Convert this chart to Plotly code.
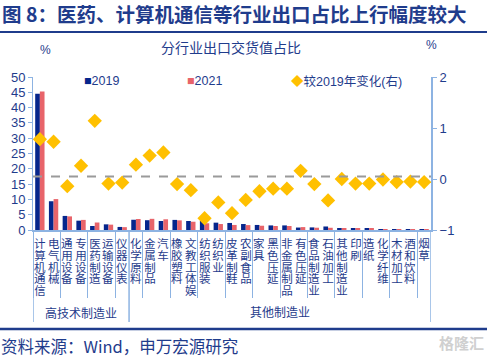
import plotly.graph_objects as go

categories = ["计算机通信", "电气机械", "通用设备", "专用设备", "医药制造", "运输设备", "仪器仪表",
              "化学原料", "金属制品", "汽车", "橡胶塑料", "文教工体娱", "纺织服装", "纺织业", "皮革制鞋",
              "农副食品", "家具", "黑色压延", "非金属制品", "有色压延", "食品制造业", "石油加工",
              "其他制造业", "印刷", "造纸", "化学纤维", "木材加工", "酒和饮料", "烟草"]
share_2019 = [44.5, 9.4, 4.6, 3.05, 1.3, 1.85, 1.0, 3.35, 3.2, 2.95, 3.3, 2.95, 2.95, 2.4, 2.3,
              1.95, 1.65, 1.5, 1.5, 0.8, 0.85, 1.15, 0.45, 0.5, 0.55, 0.3, 0.25, 0.12, 0.1]
share_2021 = [45.3, 10.1, 4.45, 3.3, 2.45, 1.75, 0.93, 3.6, 3.65, 3.5, 3.15, 2.7, 2.2, 1.95, 1.65,
              1.6, 1.4, 1.3, 1.3, 0.95, 0.75, 0.73, 0.45, 0.4, 0.45, 0.3, 0.2, 0.08, 0.04]
change = [0.78, 0.73, -0.14, 0.26, 1.14, -0.09, -0.07, 0.28, 0.46, 0.52, -0.10, -0.22, -0.77, -0.46,
          -0.67, -0.41, -0.24, -0.19, -0.19, 0.16, -0.10, -0.42, 0.0, -0.09, -0.09, -0.01, -0.06,
          -0.05, -0.06]
groups = [("高技术制造业", 0, 6), ("其他制造业", 7, 28)]

NAVY = "#06268C"
RED = "#E8646A"
GOLD = "#FFC000"
AXIS = "#8DB3E2"
TXT = "#1F3C8C"
FONT = "Liberation Sans, Noto Sans CJK SC, sans-serif"
CJK = "Noto Sans CJK SC, sans-serif"

W, H = 493, 359
L, R, T, B = 33, 62, 77, 129
PW, PH = W - L - R, H - T - B


def px(x):
    return (x - L) / PW


def py(y):
    return (H - B - y) / PH


fig = go.Figure()
fig.add_bar(x=categories, y=share_2019, name="2019", marker_color=NAVY, marker_line_width=0)
fig.add_bar(x=categories, y=share_2021, name="2021", marker_color=RED, marker_line_width=0)
fig.add_scatter(x=categories, y=change, name="较2019年变化(右)", yaxis="y2", mode="markers",
                marker=dict(symbol="diamond", size=11, color=GOLD))

fig.update_layout(
    width=W, height=H,
    margin=dict(l=L, r=R, t=T, b=B, autoexpand=False),
    paper_bgcolor="white", plot_bgcolor="white",
    barmode="group", bargap=0.32, bargroupgap=0,
    showlegend=False,
    font=dict(family=FONT, color=TXT, size=12),
    xaxis=dict(type="category", showticklabels=False, ticks="outside", tickson="boundaries",
               ticklen=66, tickcolor=AXIS, tickwidth=1, showline=True, linecolor=AXIS,
               linewidth=2, showgrid=False, zeroline=False, range=[-0.5, 28.5]),
    yaxis=dict(range=[0, 50], dtick=5, showgrid=False, zeroline=False, showline=True,
               linecolor=AXIS, linewidth=1, ticks="outside", ticklen=4, tickcolor=AXIS,
               tickfont=dict(size=13, color=TXT)),
    yaxis2=dict(range=[-1, 2], dtick=1, overlaying="y", side="right", showgrid=False,
                zeroline=False, showline=True, linecolor=AXIS, linewidth=2, ticks="outside",
                ticklen=4, tickcolor=AXIS, tickfont=dict(size=13, color=TXT)),
)

# dashed reference line near right-axis zero
fig.add_shape(type="line", xref="paper", x0=0, x1=1, yref="y2", y0=0.05, y1=0.05,
              line=dict(color="#9A9A9A", width=2, dash="dash"))

# long group separator lines
for xv in [-0.5, 6.5, 28.5]:
    fig.add_shape(type="line", xref="x", x0=xv, x1=xv, yref="paper", ysizemode="pixel",
                  yanchor=0, y0=0, y1=-92, line=dict(color=AXIS, width=1.5))

# vertical category labels, one character per line
PITCH = 11.8
for cat in categories:
    for i, ch in enumerate(cat):
        fig.add_annotation(x=cat, xref="x", y=0, yref="paper", yanchor="top",
                           yshift=-(7 + i * PITCH), text=ch, showarrow=False,
                           height=PITCH - 0.3, width=12, borderpad=0,
                           font=dict(size=11.5, color=TXT, family=FONT))

# group labels
for name, a, b in groups:
    fig.add_annotation(x=(a + b) / 2, xref="x", y=py(313), yref="paper", yanchor="middle",
                       text=name, showarrow=False, font=dict(size=12, color=TXT))

# legend as annotations
leg = [(82, "■", NAVY, "2019"), (185, "■", RED, "2021"), (289, "◆", GOLD, "较2019年变化(右)")]
for lx, sym, col, lab in leg:
    fig.add_annotation(x=px(lx), xref="paper", y=py(81), yref="paper", xanchor="left",
                       yanchor="middle", showarrow=False, font=dict(size=12.5, color=TXT),
                       text=f"<span style='color:{col}'>{sym}</span>{lab}")

# title, subtitle, units
fig.add_annotation(x=px(0), xref="paper", y=py(14), yref="paper", xanchor="left",
                   yanchor="middle", showarrow=False,
                   text="<b>图 8：医药、计算机通信等行业出口占比上行幅度较大</b>",
                   font=dict(size=19.5, color=TXT, family=CJK))
fig.add_annotation(x=px(231), xref="paper", y=py(48), yref="paper", xanchor="center",
                   yanchor="middle", showarrow=False, text="分行业出口交货值占比",
                   font=dict(size=14, color=TXT))
fig.add_annotation(x=px(45), xref="paper", y=py(50), yref="paper", xanchor="center",
                   yanchor="middle", showarrow=False, text="%", font=dict(size=12, color=TXT))
fig.add_annotation(x=px(431), xref="paper", y=py(45), yref="paper", xanchor="center",
                   yanchor="middle", showarrow=False, text="%", font=dict(size=12, color=TXT))

# header/footer rules
fig.add_shape(type="line", xref="paper", yref="paper", x0=px(0), x1=px(487),
              y0=py(32), y1=py(32), line=dict(color="#1F3C8C", width=2))
fig.add_shape(type="line", xref="paper", yref="paper", x0=px(0), x1=px(487),
              y0=py(329), y1=py(329), line=dict(color="#1F3C8C", width=2.5))

# footer
fig.add_annotation(x=px(0), xref="paper", y=py(346), yref="paper", xanchor="left",
                   yanchor="middle", showarrow=False, text="资料来源：Wind，申万宏源研究",
                   borderpad=0, font=dict(size=16.5, color=TXT, family=CJK))
fig.add_annotation(x=px(486), xref="paper", y=py(342), yref="paper", xanchor="right",
                   yanchor="middle", showarrow=False, text="<b>格隆汇</b>",
                   font=dict(size=15, color="#D0D0D0", family=CJK))

fig.write_html("out.html", config={"displayModeBar": False},
               post_script="document.body.style.margin='0';document.body.style.overflow='hidden';")
